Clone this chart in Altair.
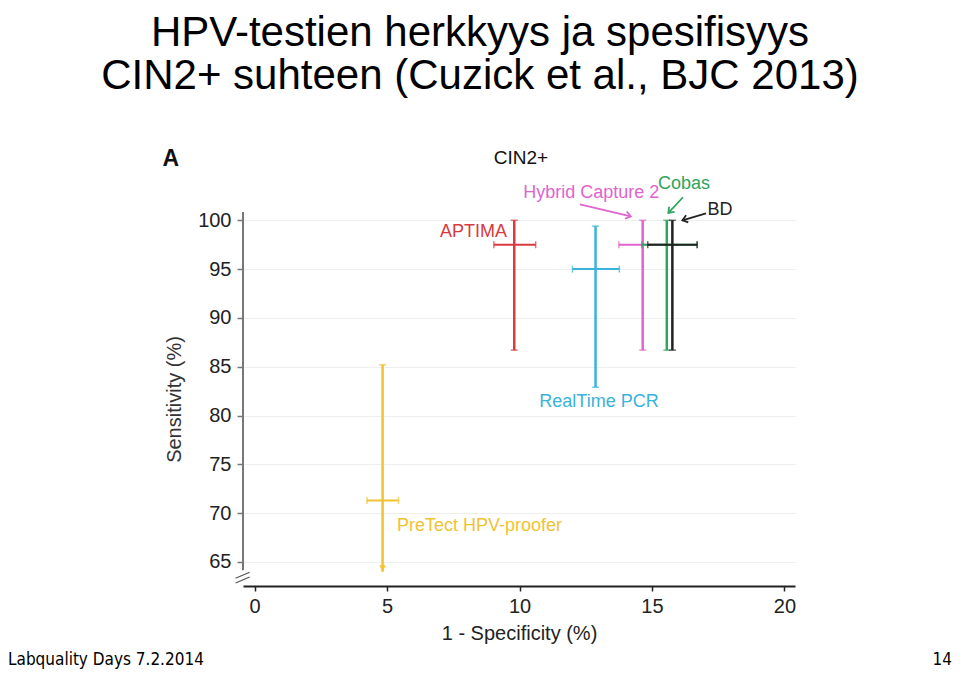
import math
import altair as alt
import pandas as pd

# ---------------- data ----------------
tests = ["PreTect HPV-proofer", "APTIMA", "RealTime PCR", "Hybrid Capture 2", "Cobas", "BD"]
fpr = [4.83, 9.80, 12.87, 14.65, 15.56, 15.77]          # 1 - specificity (%)
fpr_lo = [4.24, 9.03, 12.00, 13.75, 14.62, 14.84]
fpr_hi = [5.43, 10.61, 13.77, 15.56, 16.70, 16.71]
sens = [71.3, 97.5, 95.0, 97.5, 97.5, 97.5]              # sensitivity (%)
sens_lo = [64.0, 86.7, 82.9, 86.7, 86.7, 86.7]
sens_hi = [85.2, 100.0, 99.4, 100.0, 100.0, 100.0]
truncated_low = [True, False, False, False, False, False]
colors = ["#f1c232", "#d93a3e", "#3ab2da", "#e064cf", "#2ea45c", "#222222"]

# annotation labels (data coordinates)
label_text = ["PreTect HPV-proofer", "APTIMA", "RealTime PCR", "Hybrid Capture 2", "Cobas", "BD"]
label_x = [8.49, 8.26, 13.00, 12.71, 16.21, 17.57]
label_y = [68.70, 98.80, 81.36, 102.77, 103.72, 101.02]
label_color = ["#f1c232", "#d93a3e", "#3ab2da", "#e064cf", "#2ea45c", "#222222"]

# pointer arrows (data coordinates): start -> tip
arrow_x0 = [12.28, 16.17, 17.04]
arrow_y0 = [101.64, 102.36, 100.72]
arrow_x1 = [14.20, 15.62, 16.15]
arrow_y1 = [100.41, 100.75, 100.00]
arrow_color = ["#e064cf", "#2ea45c", "#222222"]

x_ticks = [0, 5, 10, 15, 20]
y_ticks = [65, 70, 75, 80, 85, 90, 95, 100]

title_lines = ["HPV-testien herkkyys ja spesifisyys", "CIN2+ suhteen (Cuzick et al., BJC 2013)"]
footer_left = "Labquality Days 7.2.2014"
footer_right = "14"

# ---------------- layout ----------------
W, H = 552, 374
XDOM = [-0.44, 20.40]
YDOM = [62.54, 100.85]
KX = W / (XDOM[1] - XDOM[0])
KY = H / (YDOM[1] - YDOM[0])
FONT = "Liberation Sans, Arial, sans-serif"
NARROW = "Liberation Sans Narrow, Arial Narrow, DejaVu Sans Condensed, Liberation Sans, sans-serif"

xs = alt.Scale(domain=XDOM, nice=False, zero=False)
ys = alt.Scale(domain=YDOM, nice=False, zero=False)

xaxis = alt.Axis(values=x_ticks, title="1 - Specificity (%)", grid=False,
                 domainColor="#222222", domainWidth=2, tickColor="#222222",
                 tickWidth=1.5, tickSize=5, labelFont=FONT, labelFontSize=20,
                 labelColor="#222222", labelPadding=5, labelFlush=False,
                 titleFont=FONT, titleFontSize=20, titleFontWeight="normal",
                 titleColor="#222222", titlePadding=7)
yaxis = alt.Axis(values=y_ticks, title="Sensitivity (%)", grid=True,
                 gridColor="#eeeeee", gridWidth=1, domain=False,
                 tickColor="#777777", tickWidth=1.5, tickSize=6,
                 labelFont=FONT, labelFontSize=20, labelColor="#222222",
                 labelPadding=6, titleFont=FONT, titleFontSize=20,
                 titleFontWeight="normal", titleColor="#333333", titlePadding=13)


def X(f):
    return alt.X(f, type="quantitative", scale=xs, axis=xaxis)


def Y(f):
    return alt.Y(f, type="quantitative", scale=ys, axis=yaxis)


df = pd.DataFrame(dict(test=tests, fpr=fpr, fpr_lo=fpr_lo, fpr_hi=fpr_hi,
                       sens=sens, sens_lo=sens_lo, sens_hi=sens_hi,
                       trunc=truncated_low))

layers = []

# y-axis line with a gap (axis break) at the bottom
yline = pd.DataFrame({"x": [XDOM[0]], "y": [64.15], "y2": [YDOM[1]]})
layers.append(alt.Chart(yline).mark_rule(color="#777777", strokeWidth=2).encode(
    x=X("x"), y=Y("y"), y2="y2"))
brk = pd.DataFrame({"x": [-0.72, -0.72], "y": [63.33, 62.84],
                    "x2": [-0.19, -0.19], "y2": [63.95, 63.46]})
layers.append(alt.Chart(brk).mark_rule(color="#555555", strokeWidth=1.2).encode(
    x=X("x"), y=Y("y"), x2="x2", y2="y2"))

CHEVRON = "M-1,-0.75L0,0L-1,0.75"
DOWN_TRI = "M-0.8,-1.6L0.8,-1.6L0,0Z"

for i in range(len(tests)):
    d = df.iloc[[i]]
    c = colors[i]
    base = alt.Chart(d)
    layers.append(base.mark_rule(color=c, strokeWidth=2.5).encode(
        x=X("fpr"), y=Y("sens_lo"), y2="sens_hi"))
    layers.append(base.mark_rule(color=c, strokeWidth=2).encode(
        x=X("fpr_lo"), x2="fpr_hi", y=Y("sens")))
    layers.append(base.mark_tick(color=c, orient="horizontal", size=7, thickness=1.5).encode(
        x=X("fpr"), y=Y("sens_hi")))
    if truncated_low[i]:
        layers.append(base.mark_point(shape=DOWN_TRI, filled=True, size=64, color=c,
                                      opacity=1, strokeWidth=0).encode(
            x=X("fpr"), y=Y("sens_lo")))
    else:
        layers.append(base.mark_tick(color=c, orient="horizontal", size=7, thickness=1.5).encode(
            x=X("fpr"), y=Y("sens_lo")))
    layers.append(base.mark_tick(color=c, orient="vertical", size=7, thickness=1.5).encode(
        x=X("fpr_lo"), y=Y("sens")))
    layers.append(base.mark_tick(color=c, orient="vertical", size=7, thickness=1.5).encode(
        x=X("fpr_hi"), y=Y("sens")))

# labels
for t, lx, ly, lc in zip(label_text, label_x, label_y, label_color):
    ld = pd.DataFrame({"t": [t], "x": [lx], "y": [ly]})
    layers.append(alt.Chart(ld).mark_text(font=FONT, fontSize=18, color=lc,
                                          align="center", baseline="middle").encode(
        x=X("x"), y=Y("y"), text="t"))

# panel header
hd = pd.DataFrame({"t": ["CIN2+"], "x": [10.05], "y": [106.35]})
layers.append(alt.Chart(hd).mark_text(font=FONT, fontSize=19, color="#111111",
                                      align="center", baseline="middle").encode(
    x=X("x"), y=Y("y"), text="t"))
pa = pd.DataFrame({"t": ["A"], "x": [-3.17], "y": [106.25]})
layers.append(alt.Chart(pa).mark_text(font=FONT, fontSize=23, fontWeight="bold",
                                      color="#111111", align="center", baseline="middle").encode(
    x=X("x"), y=Y("y"), text="t"))

# arrows
for x0, y0, x1, y1, ac in zip(arrow_x0, arrow_y0, arrow_x1, arrow_y1, arrow_color):
    ad = pd.DataFrame({"x": [x0], "y": [y0], "x2": [x1], "y2": [y1]})
    layers.append(alt.Chart(ad).mark_rule(color=ac, strokeWidth=1.8).encode(
        x=X("x"), y=Y("y"), x2="x2", y2="y2"))
    ang = math.degrees(math.atan2(-(y1 - y0) * KY, (x1 - x0) * KX)) % 360
    hd2 = pd.DataFrame({"x": [x1], "y": [y1]})
    layers.append(alt.Chart(hd2).mark_point(shape=CHEVRON, filled=False, size=100,
                                            color=ac, strokeWidth=1.8, angle=ang, opacity=1).encode(
        x=X("x"), y=Y("y")))

# slide title and footer (pixel positions relative to the plot origin)
layers.append(alt.Chart(pd.DataFrame({"t": [title_lines[0]]})).mark_text(
    font=FONT, fontSize=42, color="#000000", align="center", baseline="alphabetic").encode(
    x=alt.value(237), y=alt.value(-166), text="t"))
layers.append(alt.Chart(pd.DataFrame({"t": [title_lines[1]]})).mark_text(
    font=FONT, fontSize=42, color="#000000", align="center", baseline="alphabetic").encode(
    x=alt.value(237), y=alt.value(-123), text="t"))
layers.append(alt.Chart(pd.DataFrame({"t": [footer_left]})).mark_text(
    font=NARROW, fontSize=17, color="#000000", align="left", baseline="alphabetic").encode(
    x=alt.value(-235), y=alt.value(453), text="t"))
layers.append(alt.Chart(pd.DataFrame({"t": [footer_right]})).mark_text(
    font=NARROW, fontSize=17, color="#000000", align="right", baseline="alphabetic").encode(
    x=alt.value(709), y=alt.value(453), text="t"))

chart = alt.layer(*layers).properties(
    width=W, height=H,
    autosize=alt.AutoSizeParams(type="none"),
    padding={"left": 235, "top": 204, "right": 157, "bottom": 84},
    background="white",
).configure_view(stroke=None)

chart.save("out.html", embed_options={"renderer": "svg", "actions": False})
